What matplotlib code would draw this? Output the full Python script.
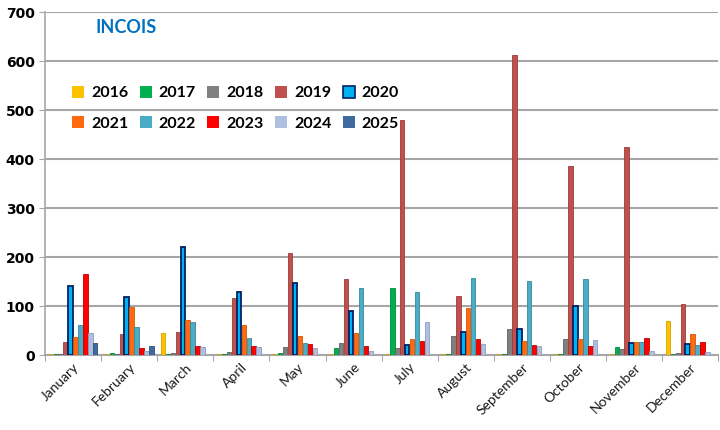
import matplotlib
matplotlib.use("Agg")
import matplotlib.pyplot as plt
import numpy as np
from matplotlib.patches import Patch

months = ["January", "February", "March", "April", "May", "June", "July",
          "August", "September", "October", "November", "December"]
years = ["2016", "2017", "2018", "2019", "2020", "2021", "2022", "2023", "2024", "2025"]

v2016 = [3, 2, 45, 2, 2, 2, 2, 2, 2, 2, 2, 70]
v2017 = [3, 5, 2, 2, 5, 15, 137, 3, 3, 3, 17, 3]
v2018 = [3, 3, 5, 6, 17, 25, 15, 40, 53, 32, 12, 5]
v2019 = [27, 43, 47, 117, 209, 155, 480, 120, 612, 386, 425, 105]
v2020 = [142, 118, 220, 128, 148, 91, 20, 47, 53, 100, 25, 23]
v2021 = [38, 98, 72, 62, 40, 45, 33, 97, 28, 34, 27, 44]
v2022 = [62, 57, 68, 36, 24, 137, 128, 158, 152, 156, 27, 21]
v2023 = [165, 15, 18, 19, 23, 18, 28, 34, 20, 18, 36, 27]
v2024 = [45, 8, 16, 17, 15, 9, 68, 22, 18, 30, 8, 7]
v2025 = [24, 18, 0, 0, 0, 0, 0, 0, 0, 0, 0, 0]

series = [v2016, v2017, v2018, v2019, v2020, v2021, v2022, v2023, v2024, v2025]
colors = ["#FFC000", "#00B050", "#808080", "#C0504D", "#00B0F0",
          "#FF6A10", "#4BACC6", "#FF0000", "#AFBFE0", "#3F6AA0"]
edges = ["#D9A200", "#008A3E", "#606060", "#9C3B38", "#002060",
         "#D45500", "#35899F", "#C00000", "#8C9CC0", "#2D4F7A"]

fig = plt.figure(figsize=(7.2, 4.3), dpi=100)
ax = fig.add_axes([0.0625, 0.174, 0.935, 0.798])

x = np.arange(len(months))
w = 0.088
n = len(series)
for i, (vals, c, e) in enumerate(zip(series, colors, edges)):
    off = (i - (n - 1) / 2) * w
    lw = 1.3 if years[i] == "2020" else 0.6
    ax.bar(x + off, vals, width=w * 0.9, color=c, edgecolor=e, linewidth=lw, zorder=3)

ax.set_xlim(-0.5, 11.5)
ax.set_ylim(0, 700)
ax.set_yticks(range(0, 701, 100))
ax.yaxis.grid(True, color="#A6A6A6", linewidth=1.5, zorder=0)
ax.set_axisbelow(True)
for s in ["top", "right"]:
    ax.spines[s].set_visible(False)
ax.spines["left"].set_color("#A6A6A6")
ax.spines["left"].set_linewidth(1.2)
ax.spines["bottom"].set_color("#A6A6A6")
ax.spines["bottom"].set_linewidth(1.5)

ax.set_xticks(np.arange(-0.5, 12, 1), minor=False)
ax.set_xticklabels([])
ax.set_xticks(x, minor=True)
ax.set_xticklabels(months, minor=True, rotation=45, ha="right",
                   rotation_mode="anchor", fontsize=10, color="#1A1A1A",
                   family="Lato")
ax.tick_params(axis="x", which="minor", length=0, pad=4)
ax.tick_params(axis="x", which="major", length=4, color="#A6A6A6")
ax.tick_params(axis="y", length=4, color="#A6A6A6", labelsize=10)
for lab in ax.get_yticklabels():
    lab.set_fontweight("bold")

ax.text(0.12, 0.955, "INCOIS", transform=ax.transAxes, color="#0070C0",
        fontsize=13, fontweight="bold", ha="center", va="center", family="Lato")

handles = [Patch(facecolor=c, edgecolor=(edges[i] if years[i] == "2020" else c),
                 linewidth=(1.2 if years[i] == "2020" else 0))
           for i, c in enumerate(colors)]
# legend fills column-wise; reorder so rows read 2016-2020 / 2021-2025
order = [0, 5, 1, 6, 2, 7, 3, 8, 4, 9]
leg = ax.legend([handles[k] for k in order], [years[k] for k in order],
                ncol=5, loc="upper left",
                bbox_to_anchor=(0.04, 0.785), frameon=False,
                borderpad=0, borderaxespad=0,
                prop={"weight": "bold", "size": 11.5, "family": "Lato"},
                handlelength=0.75, handleheight=0.75, handletextpad=0.45,
                columnspacing=0.7, labelspacing=1.0)

fig.savefig("out.png", dpi=100)
